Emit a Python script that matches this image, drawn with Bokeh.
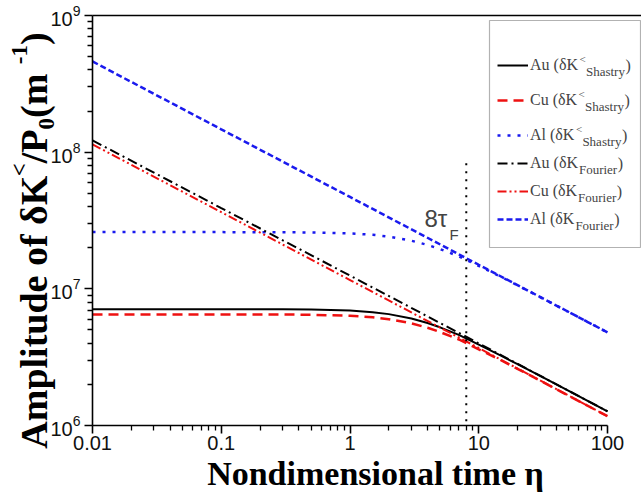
import math
from bokeh.plotting import figure
from bokeh.models import (Range1d, FixedTicker, LogAxis, NumeralTickFormatter,
                          Label, Legend, LegendItem, BoxAnnotation)
from bokeh.embed import file_html
from bokeh.resources import INLINE

# ---------------- data ----------------
eta = [0.01, 0.1, 0.3, 0.5, 1, 1.5, 2, 3, 4, 5, 7, 10, 15, 20, 30, 50, 100]
au_shastry = [7.10e6, 7.10e6, 7.08e6, 7.06e6, 6.93e6, 6.75e6, 6.53e6, 6.06e6, 5.62e6,
              5.23e6, 4.60e6, 3.90e6, 3.23e6, 2.81e6, 2.31e6, 1.79e6, 1.27e6]
cu_shastry = [6.50e6, 6.50e6, 6.49e6, 6.46e6, 6.35e6, 6.20e6, 6.00e6, 5.59e6, 5.19e6,
              4.83e6, 4.26e6, 3.61e6, 2.99e6, 2.60e6, 2.13e6, 1.65e6, 1.17e6]
al_shastry = [2.60e7, 2.60e7, 2.595e7, 2.585e7, 2.545e7, 2.485e7, 2.41e7, 2.25e7, 2.095e7,
              1.955e7, 1.73e7, 1.47e7, 1.22e7, 1.06e7, 8.70e6, 6.77e6, 4.80e6]

eta_f = [0.01, 0.1, 1, 10, 100]
au_fourier = [1.22e8, 3.90e7, 1.25e7, 3.99e6, 1.27e6]
cu_fourier = [1.14e8, 3.64e7, 1.16e7, 3.69e6, 1.17e6]
al_fourier = [4.61e8, 1.47e8, 4.70e7, 1.50e7, 4.80e6]

tau_x = [8, 8]
tau_y = [8.3e7, 1e6]

x_major = [0.01, 0.1, 1, 10, 100]
y_major = [1e6, 1e7, 1e8, 1e9]
x_minor = [k * m for m in x_major[:-1] for k in range(2, 10)]
y_minor = [k * m for m in y_major[:-1] for k in range(2, 10)]

legend_names = ["Au (δK", "Cu (δK", "Al (δK", "Au (δK", "Cu (δK", "Al (δK"]
x_title = "Nondimensional time η"

# ---------------- geometry (canvas px) ----------------
W, H = 641, 493
AX_L, AX_R = 92, 607      # x positions of 0.01 and 100
AX_T, AX_B = 15, 425      # y positions of 1e9 and 1e6
DX = (AX_R - AX_L) / 4.0
DY = (AX_B - AX_T) / 3.0
x_lo = 10 ** (-2 - AX_L / DX)
x_hi = 10 ** (2 + (W - AX_R) / DX)
y_lo = 10 ** (6 - (H - AX_B) / DY)
y_hi = 10 ** (9 + AX_T / DY)


def x_at(X):
    return 10 ** (-2 + (X - AX_L) / DX)


p = figure(width=W, height=H, x_axis_type="log", y_axis_type="log",
           x_range=Range1d(x_lo, x_hi), y_range=Range1d(y_lo, y_hi),
           output_backend="svg", toolbar_location=None,
           min_border_left=0, min_border_right=0, min_border_top=0, min_border_bottom=0)
p.outline_line_color = None
p.xgrid.visible = False
p.ygrid.visible = False
p.background_fill_color = "white"
p.border_fill_color = "white"

TICK_FONT = "Liberation Sans"
SERIF = "Liberation Serif"

xa = p.xaxis[0]
xa.ticker = FixedTicker(ticks=x_major, minor_ticks=x_minor)
xa.bounds = (0.01, 100)
xa.fixed_location = 1e6
xa.formatter = NumeralTickFormatter(format="0.[00]")
ya = p.yaxis[0]
ya.ticker = FixedTicker(ticks=y_major, minor_ticks=y_minor)
ya.bounds = (1e6, 1e9)
ya.fixed_location = 0.01
for ax in (xa, ya):
    ax.axis_line_width = 1.6
    ax.axis_line_color = "black"
    ax.major_tick_line_width = 1.6
    ax.minor_tick_line_width = 1.3
    ax.major_tick_in = 0
    ax.major_tick_out = 8
    ax.minor_tick_in = 0
    ax.minor_tick_out = 5
    ax.major_label_text_font = TICK_FONT
    ax.major_label_text_font_size = "20px"
    ax.major_label_text_color = "#111111"
xa.major_label_standoff = 2
ya.major_label_standoff = 4

# x-axis title carried by a line-less axis whose span is centred like the reference title
xt = LogAxis(ticker=FixedTicker(ticks=[]), major_label_text_font_size="0px",
             major_tick_out=0, minor_tick_out=0, major_tick_in=0, minor_tick_in=0,
             axis_line_color=None, major_label_standoff=0,
             fixed_location=1e6, bounds=(x_at(175), x_at(575)),
             axis_label=x_title, axis_label_standoff=29,
             axis_label_text_font=SERIF, axis_label_text_font_style="bold",
             axis_label_text_font_size="34px", axis_label_text_color="black")
p.add_layout(xt, "below")

top = LogAxis(ticker=FixedTicker(ticks=[]), major_label_text_font_size="0px",
              major_tick_out=0, minor_tick_out=0, major_tick_in=0, minor_tick_in=0,
              axis_line_width=1.6, major_label_standoff=0,
              fixed_location=1e9, bounds=(0.01, x_hi))
p.add_layout(top, "above")

# ---------------- curves ----------------
r_au_s = p.line(eta, au_shastry, line_color="black", line_width=2)
r_cu_s = p.line(eta, cu_shastry, line_color="#ee1111", line_width=2.5, line_dash="10 6")
r_al_s = p.line(eta, al_shastry, line_color="#1a1aee", line_width=2.5, line_dash="3 7")
r_au_f = p.line(eta_f, au_fourier, line_color="black", line_width=2, line_dash="10 4 2 4")
r_cu_f = p.line(eta_f, cu_fourier, line_color="#ee1111", line_width=2, line_dash="9 3 2 3 2 3")
r_al_f = p.line(eta_f, al_fourier, line_color="#1a1aee", line_width=2.5, line_dash="6 3")
p.line(tau_x, tau_y, line_color="black", line_width=2, line_dash="2 6")


def sx(X):
    return X


def sy(Y):
    return H - Y


# ---------------- legend ----------------
box = BoxAnnotation(left=sx(489), right=sx(640), top=sy(20), bottom=sy(247),
                    left_units="screen", right_units="screen",
                    top_units="screen", bottom_units="screen",
                    fill_color="white", fill_alpha=1.0, line_color="black", line_width=1.2)
p.add_layout(box)

common = dict(padding=0, margin=0, glyph_width=31, glyph_height=20, label_height=20,
              label_standoff=2, label_text_font=SERIF, label_text_font_size="16px",
              border_line_color=None, background_fill_alpha=0.0)
legA = Legend(items=[LegendItem(label=legend_names[0], renderers=[r_au_s]),
                     LegendItem(label=legend_names[1], renderers=[r_cu_s]),
                     LegendItem(label=legend_names[2], renderers=[r_al_s])],
              location=(sx(497), sy(145)), spacing=15, **common)
legB = Legend(items=[LegendItem(label=legend_names[3], renderers=[r_au_f]),
                     LegendItem(label=legend_names[4], renderers=[r_cu_f]),
                     LegendItem(label=legend_names[5], renderers=[r_al_f])],
              location=(sx(497), sy(229)), spacing=8, **common)
p.add_layout(legA)
p.add_layout(legB)

# Times-compatible advance widths (em)
W_REG = {"A": .722, "u": .5, " ": .25, "(": .333, "δ": .5, "K": .722, "C": .667, "l": .278,
         ")": .333, "<": .564}
W_BOLD = {"A": .722, "m": .833, "p": .556, "l": .278, "i": .278, "t": .333, "u": .556,
          "d": .556, "e": .444, " ": .25, "o": .5, "f": .333, "δ": .5, "K": .778,
          "<": .57, "/": .278, "P": .611, "0": .5, "(": .333, ")": .333, "-": .333, "1": .5}


def width(s, size, table):
    return sum(table.get(c, .5) for c in s) * size


row_y = [65, 100, 135, 163, 191, 219]
for i, name in enumerate(legend_names):
    x0 = 530 + width(name, 16, W_REG)
    cy = row_y[i]
    if i < 3:
        p.add_layout(Label(x=sx(x0 + 0.5), y=sy(cy - 7), x_units="screen", y_units="screen",
                           text="<", text_font=SERIF, text_font_size="11px",
                           text_baseline="middle", text_align="left"))
        x0 += 7
        sub = "Shastry"
    else:
        sub = "Fourier"
    p.add_layout(Label(x=sx(x0), y=sy(cy + 6), x_units="screen", y_units="screen",
                       text=sub, text_font=SERIF, text_font_size="13px",
                       text_baseline="middle", text_align="left"))
    x1 = x0 + (39.0 if sub == "Shastry" else 38.3)
    p.add_layout(Label(x=sx(x1 + 0.5), y=sy(cy), x_units="screen", y_units="screen",
                       text=")", text_font=SERIF, text_font_size="16px",
                       text_baseline="middle", text_align="left"))

# ---------------- 8 tau_F ----------------
p.add_layout(Label(x=sx(424), y=sy(218), x_units="screen", y_units="screen",
                   text="8τ", text_font=TICK_FONT, text_font_size="24px",
                   text_baseline="middle", text_align="left"))
p.add_layout(Label(x=sx(449), y=sy(234), x_units="screen", y_units="screen",
                   text="F", text_font=TICK_FONT, text_font_size="15px",
                   text_baseline="middle", text_align="left"))

# ---------------- y axis title (rotated, with scripts) ----------------
YS = 38
parts = [("Amplitude of δK", "main"), ("<", "sup"), ("/P", "main"), ("0", "sub"),
         (" (m", "main"), ("-1", "sup"), (")", "main")]
sizes = {"main": YS, "sup": round(YS * 0.6), "sub": round(YS * 0.6)}
anchor_x = {"main": 33, "sup": 19, "sub": 46}
total = sum(width(t, sizes[k], W_BOLD) for t, k in parts)
Y = 240 + total / 2
for t, k in parts:
    p.add_layout(Label(x=sx(anchor_x[k]), y=sy(Y), x_units="screen", y_units="screen",
                       text=t, angle=math.pi / 2, text_font=SERIF, text_font_style="bold",
                       text_font_size=f"{sizes[k]}px", text_align="left",
                       text_baseline="middle", text_color="black"))
    Y -= width(t, sizes[k], W_BOLD)

open("out.html", "w").write(file_html(p, INLINE))
